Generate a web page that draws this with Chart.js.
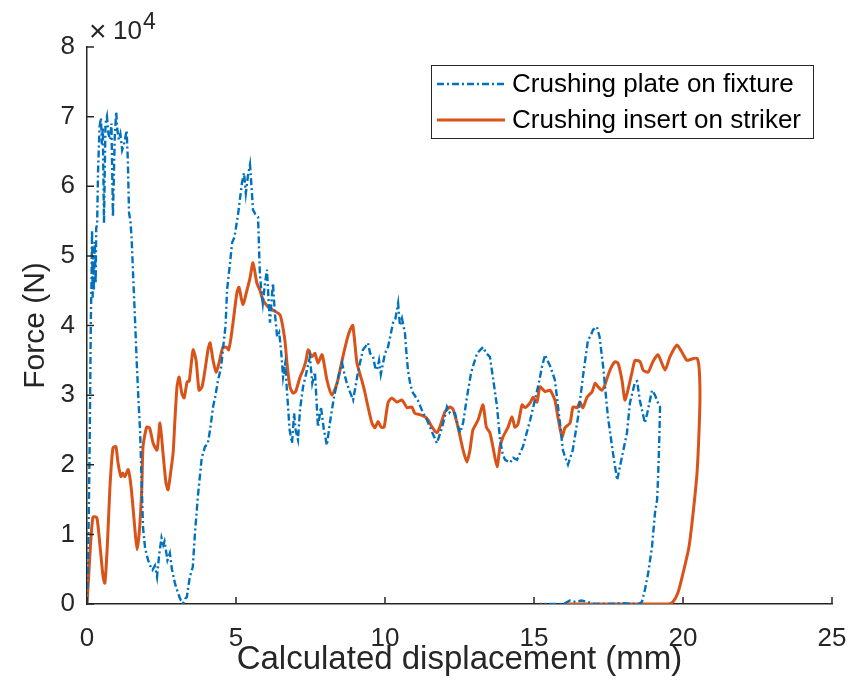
<!DOCTYPE html>
<html>
<head>
<meta charset="utf-8">
<script src="https://cdn.jsdelivr.net/npm/chart.js@4.4.1/dist/chart.umd.min.js"></script>
<style>
  html, body { margin: 0; padding: 0; background: #ffffff; }
  #wrap { width: 848px; height: 692px; }
</style>
</head>
<body>
<div id="wrap"><canvas id="c" width="848" height="692"></canvas></div>
<script>
// ---- Data (displacement in mm, force in N) ----
const seriesNames = ["Crushing plate on fixture", "Crushing insert on striker"];

const plateX = [0,0.03,0.06,0.09,0.11,0.13,0.15,0.17,0.19,0.21,0.23,0.26,0.29,0.31,0.34,0.37,0.42,0.47,0.5,0.53,0.57,0.62,0.67,0.72,0.78,0.82,0.87,0.93,0.98,1.02,1.07,1.12,1.18,1.24,1.33,1.37,1.41,1.46,1.5,1.55,1.62,1.67,1.73,1.78,1.83,1.88,1.95,2.05,2.12,2.2,2.28,2.35,2.42,2.5,2.56,2.6,2.7,2.78,2.85,2.95,3.05,3.15,3.22,3.3,3.35,3.45,3.55,3.62,3.72,3.85,3.96,4.05,4.13,4.23,4.3,4.4,4.5,4.57,4.65,4.7,4.8,4.87,4.95,5.07,5.2,5.27,5.33,5.4,5.47,5.52,5.57,5.65,5.74,5.8,5.85,5.9,5.97,6.04,6.1,6.14,6.2,6.24,6.3,6.38,6.45,6.52,6.58,6.65,6.72,6.8,6.88,6.95,7.0,7.08,7.15,7.25,7.35,7.48,7.56,7.65,7.75,7.85,7.95,8.05,8.15,8.22,8.3,8.39,8.48,8.56,8.64,8.72,8.82,8.93,9.0,9.09,9.16,9.26,9.35,9.43,9.5,9.6,9.67,9.73,9.8,9.86,9.93,10.0,10.1,10.18,10.27,10.35,10.44,10.5,10.57,10.67,10.72,10.77,10.85,10.94,11.1,11.28,11.4,11.51,11.6,11.74,11.85,11.92,12.01,12.08,12.18,12.35,12.45,12.52,12.62,12.75,12.88,12.95,13.09,13.2,13.29,13.4,13.52,13.62,13.76,13.86,13.95,14.03,14.2,14.3,14.43,14.63,14.75,14.87,15.03,15.15,15.27,15.37,15.45,15.55,15.7,15.77,15.87,15.97,16.05,16.14,16.3,16.48,16.64,16.81,16.9,16.98,17.11,17.2,17.32,17.48,17.65,17.79,17.95,18.12,18.22,18.39,18.46,18.55,18.72,18.8,18.96,19.06,19.16,19.23,19.2,19.16,19.13,19.06,18.96,18.83,18.72,18.62,18.5,18.0,17.5,17.0,16.8,16.6,16.4,16.2,16.0,15.5,15.2];
const plateF = [0,5000,13000,23000,32000,41000,46000,53700,44000,50000,45000,52000,46000,54000,54500,62000,68500,69800,66000,68500,54700,69000,70000,67500,66700,69000,55600,67000,70700,68000,66700,67500,65200,66000,68000,63800,56200,54900,52300,47000,40000,34600,29000,25000,18000,11000,8000,6300,5500,4900,5500,3900,7000,9500,8500,9000,6300,7300,5000,3000,1600,500,100,800,1000,3900,5300,10000,15400,21000,22600,23000,25000,28300,29700,32200,34000,36900,40000,45100,49000,51900,52700,56000,60500,61900,59000,61500,63100,60000,56600,56000,55600,47500,45000,43200,46000,48000,43000,40400,44000,46100,42000,38400,39000,36000,32600,34500,30000,25000,23100,27400,25000,23600,28000,31200,33000,35500,31700,33300,25400,28300,25000,22800,26000,27900,30000,31700,33500,34600,33000,31700,30500,29300,31000,33200,34600,36500,37000,37500,36000,35500,34000,33600,35000,33000,34500,36000,36900,38500,40400,41000,43200,40000,41000,38900,36000,33600,31500,30300,29300,27400,26500,25400,24500,23100,24500,25400,27000,28300,27400,27400,25500,24600,26000,29700,33000,34100,36000,36500,36900,36000,35500,32600,28300,23600,21500,20700,20300,21000,20700,22600,24500,26400,29300,31500,34100,35800,35000,34100,32200,29700,26000,22100,21000,20000,22100,26900,32600,37900,38500,39400,39800,38400,34100,26900,21700,17800,21100,24600,28900,31900,32000,29300,26000,27400,30700,30000,28900,28300,23000,17800,14900,13100,8200,4400,2000,300,0,100,0,0,300,500,300,500,0,0,0];

const insertX = [0,0.05,0.1,0.2,0.33,0.44,0.54,0.6,0.68,0.77,0.87,0.97,1.04,1.14,1.2,1.27,1.38,1.48,1.61,1.68,1.76,1.84,1.88,2.0,2.1,2.22,2.35,2.45,2.55,2.65,2.72,2.82,2.89,2.95,3.02,3.09,3.18,3.26,3.36,3.43,3.56,3.66,3.76,3.86,3.96,4.06,4.13,4.23,4.33,4.43,4.56,4.7,4.75,4.82,4.9,5.03,5.1,5.23,5.37,5.47,5.57,5.7,5.8,5.9,6.07,6.24,6.48,6.64,6.71,6.81,6.91,7.0,7.15,7.25,7.35,7.42,7.55,7.65,7.75,7.89,8.05,8.22,8.39,8.56,8.72,8.83,8.92,9.06,9.23,9.33,9.43,9.56,9.66,9.77,9.87,9.97,10.1,10.23,10.4,10.57,10.74,10.9,11.0,11.17,11.34,11.45,11.58,11.74,11.84,12.01,12.18,12.28,12.45,12.62,12.75,12.85,12.95,13.12,13.29,13.4,13.52,13.62,13.76,13.86,13.96,14.13,14.26,14.36,14.46,14.6,14.7,14.87,14.97,15.1,15.2,15.37,15.54,15.7,15.8,15.94,16.04,16.21,16.31,16.45,16.54,16.64,16.78,16.95,17.05,17.15,17.28,17.38,17.55,17.72,17.82,17.95,18.05,18.15,18.29,18.39,18.56,18.66,18.83,18.99,19.16,19.4,19.56,19.8,19.96,20.13,20.3,20.47,20.54,20.57,20.54,20.47,20.34,20.2,20.0,19.83,19.66,19.5,19.2,18.8,18.0,17.0,16.0,15.3];
const insertF = [0,3500,7300,12500,12400,8200,3900,3000,8200,16800,22400,22600,20300,18300,18800,18300,19300,16800,10600,7800,10600,16800,22600,25400,25300,23100,22100,26000,21700,17400,16400,19300,21700,26400,31200,32600,30300,29600,31900,32000,36500,35000,30700,31200,33600,36500,37500,35000,33300,34600,36900,36800,36500,37900,40400,44700,45500,43000,45100,46800,49000,46100,45100,43700,42700,42200,41500,37900,34600,31200,30300,30500,32600,33600,35000,36500,35500,36000,34600,35800,32200,30000,31700,35000,37900,39400,40000,34600,32000,30300,28300,26000,25300,26200,25400,25400,28900,29600,29000,29300,28200,28300,27400,27200,26900,26400,25400,24600,25400,27600,28300,28000,25400,22100,20400,22100,25000,26400,28600,25400,24600,22600,19700,22600,24000,25400,26900,25400,25800,28600,28200,28900,29700,29000,31200,30500,30700,29300,26900,24000,25300,26000,28300,28200,29000,28200,29700,30500,31700,31200,30700,31500,33600,34800,34600,32200,29300,30700,33300,35000,34800,33600,33300,34800,35800,33600,35500,37200,36200,35000,35200,35300,33900,30000,25000,18800,13100,8200,4400,1600,300,0,0,0,0,0,0];

const xTickValues = [0, 5, 10, 15, 20, 25];
const yTickValues = [0, 10000, 20000, 30000, 40000, 50000, 60000, 70000, 80000];
const axisTitles = { x: "Calculated displacement (mm)", y: "Force (N)" };
const exponentTimes = "\u00D7";
const exponentBase = "10";
const exponentPower = "4";

// ---- Build datasets ----
function pairs(xs, ys) { return xs.map((x, i) => ({ x: x, y: ys[i] })); }

const BLUE = "#0072BD", ORANGE = "#D95319", AX = "#262626";
const FONT = "'Liberation Sans', Arial, Helvetica, sans-serif";

const innerTicks = {
  id: "innerTicks",
  afterDraw(chart) {
    const ctx = chart.ctx, a = chart.chartArea;
    const xs = chart.scales.x, ys = chart.scales.y;
    ctx.save();
    ctx.strokeStyle = AX; ctx.lineWidth = 1.5;
    ctx.beginPath();
    xs.ticks.forEach(t => { const p = xs.getPixelForValue(t.value); ctx.moveTo(p, a.bottom); ctx.lineTo(p, a.bottom - 7); });
    ys.ticks.forEach(t => { const p = ys.getPixelForValue(t.value); ctx.moveTo(a.left, p); ctx.lineTo(a.left + 7, p); });
    ctx.stroke();
    // exponent label
    ctx.fillStyle = AX;
    ctx.textBaseline = "alphabetic";
    ctx.font = "30px " + FONT;
    ctx.fillText(exponentTimes, a.left + 2, a.top - 6);
    ctx.font = "26px " + FONT;
    ctx.fillText(exponentBase, a.left + 26, a.top - 8);
    ctx.font = "23px " + FONT;
    ctx.fillText(exponentPower, a.left + 56, a.top - 18);
    ctx.restore();
  }
};

const boxLegend = {
  id: "boxLegend",
  afterDraw(chart) {
    const ctx = chart.ctx;
    const bx = 431, by = 65, bw = 382, bh = 73;
    ctx.save();
    ctx.fillStyle = "#ffffff";
    ctx.fillRect(bx, by, bw, bh);
    ctx.strokeStyle = AX; ctx.lineWidth = 1;
    ctx.strokeRect(bx + 0.5, by + 0.5, bw, bh);
    const rows = [
      { ds: chart.data.datasets[0], y: by + 19 },
      { ds: chart.data.datasets[1], y: by + 55 }
    ];
    rows.forEach(r => {
      ctx.beginPath();
      ctx.strokeStyle = r.ds.borderColor;
      ctx.lineWidth = r.ds.borderWidth;
      ctx.setLineDash(r.ds.borderDash || []);
      ctx.moveTo(bx + 6, r.y); ctx.lineTo(bx + 74, r.y);
      ctx.stroke();
      ctx.setLineDash([]);
      ctx.fillStyle = "#000000";
      ctx.font = "26px " + FONT;
      ctx.textBaseline = "middle";
      ctx.fillText(r.ds.label, bx + 81, r.y + 1);
    });
    ctx.restore();
  }
};

new Chart(document.getElementById("c"), {
  type: "scatter",
  data: {
    datasets: [
      { label: seriesNames[0], data: pairs(plateX, plateF), showLine: true, borderColor: BLUE, backgroundColor: BLUE,
        borderWidth: 2.4, borderDash: [7, 3, 2, 3], pointRadius: 0, tension: 0, fill: false },
      { label: seriesNames[1], data: pairs(insertX, insertF), showLine: true, borderColor: ORANGE, backgroundColor: ORANGE,
        borderWidth: 3, pointRadius: 0, tension: 0.2, fill: false }
    ]
  },
  options: {
    responsive: false,
    devicePixelRatio: 1,
    animation: false,
    layout: { padding: { top: 47, right: 16, left: 0, bottom: 0 } },
    plugins: { legend: { display: false }, tooltip: { enabled: false } },
    scales: {
      x: {
        type: "linear", min: 0, max: 25,
        afterBuildTicks(s) { s.ticks = xTickValues.map(v => ({ value: v })); },
        afterFit(s) { s.height = 88; s.paddingLeft = 0; s.paddingRight = 0; },
        grid: { display: true, drawOnChartArea: false, drawTicks: false },
        border: { display: true, color: AX, width: 1.5 },
        ticks: { color: AX, font: { family: FONT, size: 26 }, padding: 19, maxRotation: 0 },
        title: { display: true, text: axisTitles.x, color: AX, font: { family: FONT, size: 33 }, padding: { top: 0, bottom: 12 } }
      },
      y: {
        type: "linear", min: 0, max: 80000,
        afterBuildTicks(s) { s.ticks = yTickValues.map(v => ({ value: v })); },
        afterFit(s) { s.width = 87; s.paddingTop = 0; s.paddingBottom = 0; },
        grid: { display: true, drawOnChartArea: false, drawTicks: false },
        border: { display: true, color: AX, width: 1.5 },
        ticks: { color: AX, font: { family: FONT, size: 26 }, padding: 12, callback: v => String(v / 10000) },
        title: { display: true, text: axisTitles.y, color: AX, font: { family: FONT, size: 30 }, padding: { top: 18, bottom: 0 } }
      }
    }
  },
  plugins: [innerTicks, boxLegend]
});
</script>
</body>
</html>
